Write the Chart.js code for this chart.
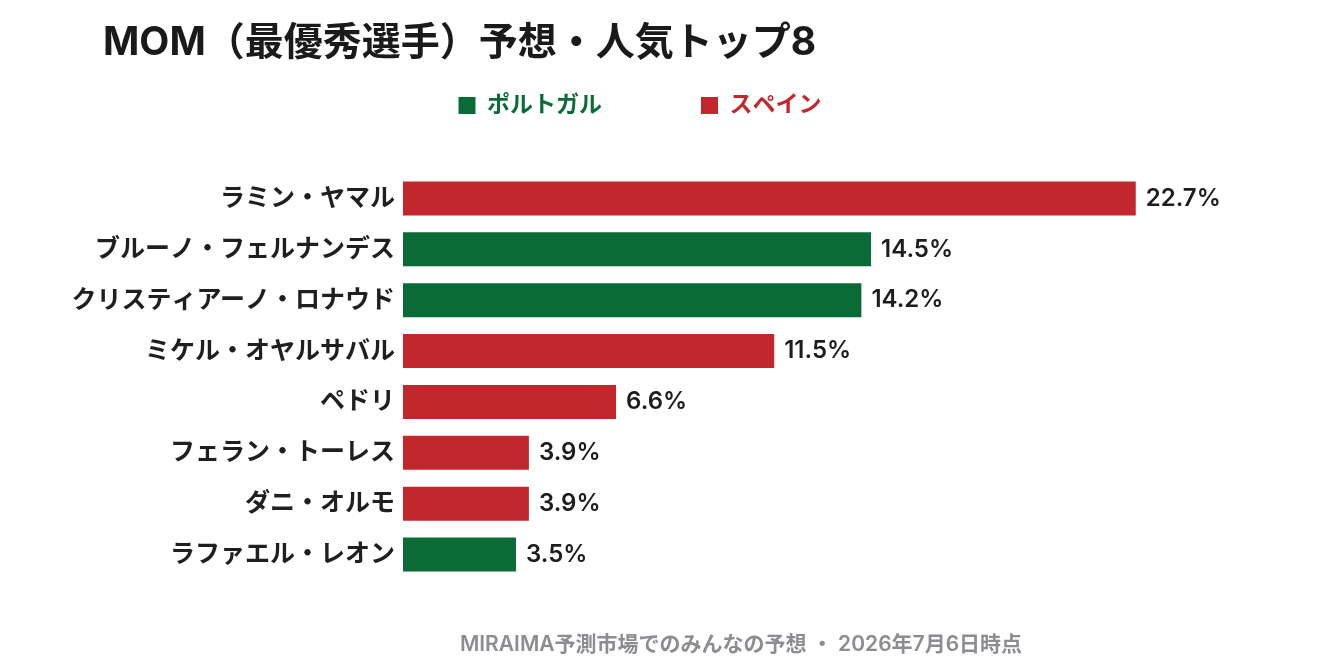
<!DOCTYPE html>
<html lang="ja">
<head>
<meta charset="utf-8">
<title>MOM予想</title>
<script src="https://cdn.jsdelivr.net/npm/chart.js@4"></script>
<style>
  html, body { margin: 0; padding: 0; background: #fff; }
  #wrap { width: 1344px; height: 672px; position: relative; }
</style>
</head>
<body>
<div id="wrap"><canvas id="chart"></canvas></div>
<script>
const titleText = "MOM（最優秀選手）予想・人気トップ8";
const footerText = "MIRAIMA予測市場でのみんなの予想 ・ 2026年7月6日時点";

const players = [
  "ラミン・ヤマル",
  "ブルーノ・フェルナンデス",
  "クリスティアーノ・ロナウド",
  "ミケル・オヤルサバル",
  "ペドリ",
  "フェラン・トーレス",
  "ダニ・オルモ",
  "ラファエル・レオン",
];
const shares = [22.7, 14.5, 14.2, 11.5, 6.6, 3.9, 3.9, 3.5];
const teams = ["ESP", "POR", "POR", "ESP", "ESP", "ESP", "ESP", "POR"];

const teamNames = { POR: "ポルトガル", ESP: "スペイン" };
const teamColors = { POR: "#0b6b37", ESP: "#c3272e" };

const FONT = 'Inter, "Noto Sans CJK JP", sans-serif';

// one dataset per team, empty slots for the other team's players
const datasets = ["POR", "ESP"].map(t => ({
  label: teamNames[t],
  data: shares.map((v, i) => (teams[i] === t ? v : null)),
  backgroundColor: teamColors[t],
  borderWidth: 0,
  grouped: false,
  barPercentage: 0.667,
  categoryPercentage: 1,
}));

const valueLabels = {
  id: "valueLabels",
  afterDatasetsDraw(chart) {
    const ctx = chart.ctx;
    ctx.save();
    ctx.font = "600 24px " + FONT;
    ctx.fillStyle = "#1d1d1f";
    ctx.textAlign = "left";
    ctx.textBaseline = "middle";
    chart.data.datasets.forEach((ds, di) => {
      const meta = chart.getDatasetMeta(di);
      meta.data.forEach((bar, i) => {
        if (ds.data[i] == null) return;
        ctx.fillText(ds.data[i].toFixed(1) + "%", bar.x + 10, bar.y);
      });
    });
    ctx.restore();
  },
};

const texts = {
  id: "texts",
  afterDraw(chart) {
    const ctx = chart.ctx;
    ctx.save();
    ctx.textBaseline = "alphabetic";
    ctx.textAlign = "left";
    ctx.fillStyle = "#1a1a1a";
    ctx.font = "bold 39px " + FONT;
    ctx.fillText(titleText, 103, 55);
    ctx.textAlign = "center";
    ctx.fillStyle = "#8b8d93";
    ctx.font = "600 21px " + FONT;
    ctx.fillText(footerText, 741, 651);
    ctx.restore();
  },
};

new Chart(document.getElementById("chart").getContext("2d"), {
  type: "bar",
  data: { labels: players, datasets: datasets },
  plugins: [valueLabels, texts],
  options: {
    indexAxis: "y",
    responsive: true,
    maintainAspectRatio: false,
    animation: false,
    layout: { padding: { top: -5, left: 70, right: 134, bottom: 92 } },
    scales: {
      x: {
        position: "top",
        min: 0,
        max: 25,
        ticks: { display: false },
        grid: { display: false },
        border: { display: false },
        afterFit: s => { s.height = 46; },
      },
      y: {
        ticks: {
          color: "#1f1f1f",
          padding: 8,
          font: { family: FONT, size: 25, weight: "bold" },
        },
        grid: { display: false, drawTicks: false },
        border: { display: false },
        afterFit: s => { s.width = 333; },
      },
    },
    plugins: {
      legend: {
        position: "top",
        align: "center",
        labels: {
          boxWidth: 17,
          boxHeight: 17,
          padding: 99,
          font: { family: FONT, size: 23, weight: "bold" },
          generateLabels(chart) {
            return chart.data.datasets.map((ds, i) => ({
              text: ds.label,
              fillStyle: ds.backgroundColor,
              strokeStyle: ds.backgroundColor,
              lineWidth: 0,
              fontColor: ds.backgroundColor,
              datasetIndex: i,
              hidden: false,
            }));
          },
        },
      },
      tooltip: { enabled: false },
    },
  },
});
</script>
</body>
</html>
